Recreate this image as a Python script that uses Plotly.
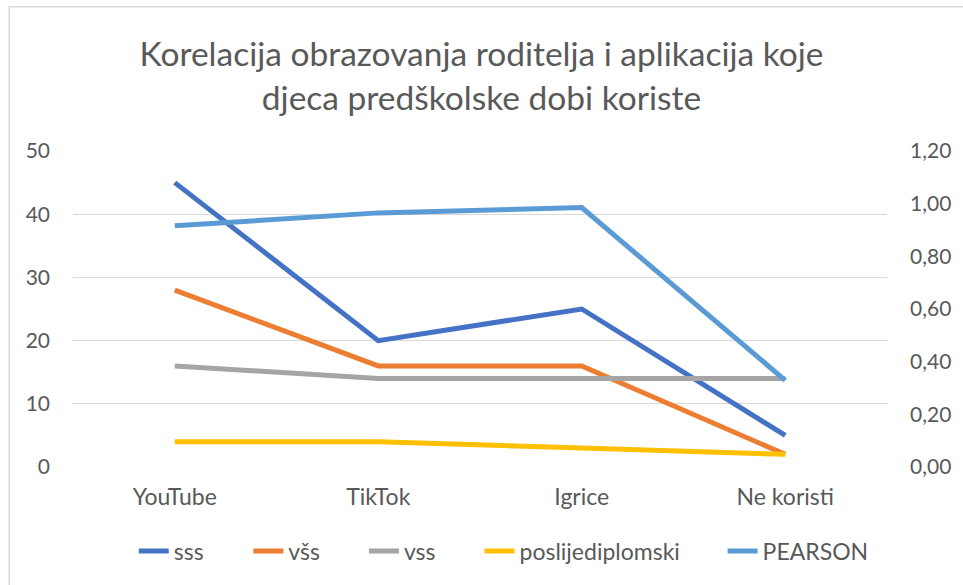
import plotly.graph_objects as go

categories = ["YouTube", "TikTok", "Igrice", "Ne koristi"]
sss = [45, 20, 25, 5]
vss_short = [28, 16, 16, 2]   # všs
vss = [16, 14, 14, 14]
poslijediplomski = [4, 4, 3, 2]
pearson = [0.916, 0.965, 0.985, 0.329]

left_ticks = [0, 10, 20, 30, 40, 50]
right_ticks = [0, 0.2, 0.4, 0.6, 0.8, 1.0, 1.2]

FONT = "Lato, 'Open Sans', sans-serif"
TXT = "#595959"

PL, PR = 73, 890  # plot area pixel edges
def px(x):
    return (x - PL) / (PR - PL)

fig = go.Figure()
series = [
    ("sss", sss, "#4472C4", "y", 126),
    ("všs", vss_short, "#ED7D31", "y", 241),
    ("vss", vss, "#A5A5A5", "y", 357),
    ("poslijediplomski", poslijediplomski, "#FFC000", "y", 473),
    ("PEARSON", pearson, "#5B9BD5", "y2", 717),
]
legends = {}
for i, (name, vals, col, ax, lx) in enumerate(series):
    lname = "legend" if i == 0 else f"legend{i+1}"
    fig.add_trace(go.Scatter(
        x=categories, y=vals, name=name, mode="lines", yaxis=ax,
        line=dict(color=col, width=5, shape="linear"),
        hoverinfo="skip", legend=lname,
    ))
    legends[lname] = dict(
        orientation="h", x=px(lx + 8), xanchor="left", y=-0.266, yanchor="middle",
        font=dict(size=23, color=TXT, family=FONT), bgcolor="rgba(0,0,0,0)",
        itemwidth=30,
    )

fig.update_layout(
    width=963, height=585,
    margin=dict(l=PL, r=963 - PR, t=151, b=117),
    paper_bgcolor="white", plot_bgcolor="white",
    separators=",.",
    font=dict(family=FONT, color=TXT, size=21),
    title=dict(
        text="Korelacija obrazovanja roditelja i aplikacija koje<br>djeca predškolske dobi koriste",
        x=0.5, xanchor="center", y=1 - 66 / 585, yanchor="middle", yref="container",
        font=dict(family=FONT, size=33.5, color=TXT),
    ),
    xaxis=dict(
        type="category", range=[-0.5, 3.5], showgrid=False, zeroline=False,
        showline=False, ticks="", tickfont=dict(size=23, color=TXT),
        ticklabelstandoff=14,
    ),
    yaxis=dict(
        range=[0, 50], tickvals=left_ticks, showgrid=True, gridcolor="#D9D9D9",
        gridwidth=1, zeroline=False, showline=False, ticks="",
        tickfont=dict(size=21, color=TXT), ticklabelstandoff=22,
    ),
    yaxis2=dict(
        range=[0, 1.2], tickvals=right_ticks, tickformat=".2f", overlaying="y",
        side="right", showgrid=False, zeroline=False, showline=False, ticks="",
        tickfont=dict(size=21, color=TXT), ticklabelstandoff=22,
    ),
    showlegend=True,
    shapes=[dict(
        type="rect", xref="paper", yref="paper",
        x0=(9 - 73) / 817, x1=(990 - 73) / 817,
        y0=(467.7 - 620) / 317, y1=(467.7 - 6) / 317,
        line=dict(color="#D9D9D9", width=1.5), fillcolor="rgba(0,0,0,0)",
        layer="below",
    )],
    **legends,
)

fig.write_html("out.html", config={"displayModeBar": False},
               post_script="document.body.style.margin='0';")
